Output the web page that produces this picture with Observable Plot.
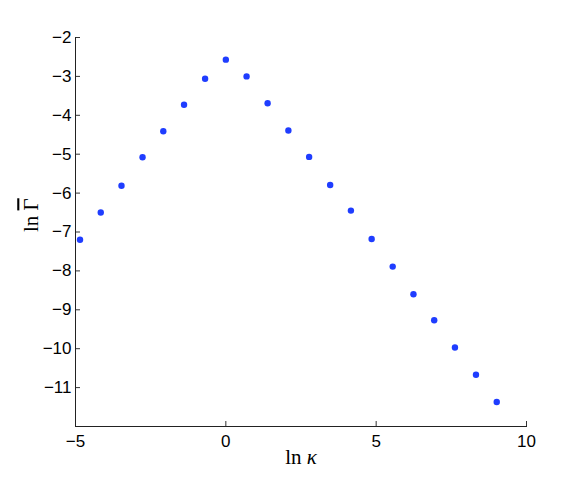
<!DOCTYPE html>
<html><head><meta charset="utf-8">
<script src="https://cdn.jsdelivr.net/npm/d3@7"></script>
<script src="https://cdn.jsdelivr.net/npm/@observablehq/plot@0.6"></script>
<style>body{margin:0;background:#fff}</style>
</head><body><div id="chart"></div>
<script>
const lnKappa = [-4.85, -4.16, -3.47, -2.77, -2.08, -1.39, -0.69, 0, 0.69, 1.39, 2.08, 2.77, 3.47, 4.16, 4.85, 5.55, 6.24, 6.93, 7.62, 8.32, 9.01];
const lnGamma = [-7.20, -6.50, -5.81, -5.08, -4.41, -3.73, -3.06, -2.57, -3.00, -3.69, -4.39, -5.07, -5.79, -6.45, -7.18, -7.89, -8.60, -9.27, -9.97, -10.67, -11.37];
const xTicks = [-5, 0, 5, 10];
const yTicks = [-2, -3, -4, -5, -6, -7, -8, -9, -10, -11];
const xLabel = ["ln", "κ"];
const yLabel = ["ln", "Γ"];

const points = lnKappa.map((x, i) => ({x, y: lnGamma[i]}));
const fmt = d3.format("d");
const W = 581, H = 481, ML = 75, MR = 55, MT = 37, MB = 55;
const TL = 5;

const chart = Plot.plot({
  width: W, height: H,
  marginLeft: ML, marginRight: MR, marginTop: MT, marginBottom: MB,
  style: {fontFamily: "'Liberation Sans', Arial, sans-serif", fontSize: "17px", background: "#fff", color: "#000"},
  x: {domain: [-5, 10], axis: null},
  y: {domain: [-12, -2], axis: null},
  marks: [
    Plot.tickX(xTicks, {x: d => d, insetTop: H - MT - MB - TL, stroke: "#333"}),
    Plot.tickY(yTicks, {y: d => d, insetRight: W - ML - MR - TL, stroke: "#333"}),
    Plot.axisX(xTicks, {tickSize: 0, tickPadding: 8, tickFormat: fmt, label: null}),
    Plot.axisY(yTicks, {tickSize: 0, tickPadding: 4, tickFormat: fmt, label: null}),
    Plot.frame({anchor: "left", stroke: "#222"}),
    Plot.frame({anchor: "bottom", stroke: "#222"}),
    Plot.dot(points, {x: "x", y: "y", r: 3.2, fill: "#1f3dff", stroke: null}),
    Plot.text([xLabel.join(" ")], {frameAnchor: "bottom", dy: 37, fontSize: 21, fontFamily: "'Liberation Serif', 'DejaVu Serif', serif", className: "xlab"}),
    Plot.text([yLabel.join(" ")], {frameAnchor: "left", dx: -44, rotate: -90, fontSize: 21, fontFamily: "'Liberation Serif', 'DejaVu Serif', serif", className: "ylab"})
  ]
});
document.getElementById("chart").appendChild(chart);

// italic kappa in x label
d3.select(chart).selectAll(".xlab text").each(function() {
  const t = d3.select(this); t.text("");
  t.append("tspan").text(xLabel[0] + " ");
  t.append("tspan").attr("font-style", "italic").text(xLabel[1]);
});
// overlined Gamma in y label
d3.select(chart).selectAll(".ylab text").each(function() {
  const t = d3.select(this); t.text("");
  t.append("tspan").text(yLabel[0] + " ");
  t.append("tspan").style("text-decoration", "overline").text(yLabel[1]);
});
</script>
</body></html>
